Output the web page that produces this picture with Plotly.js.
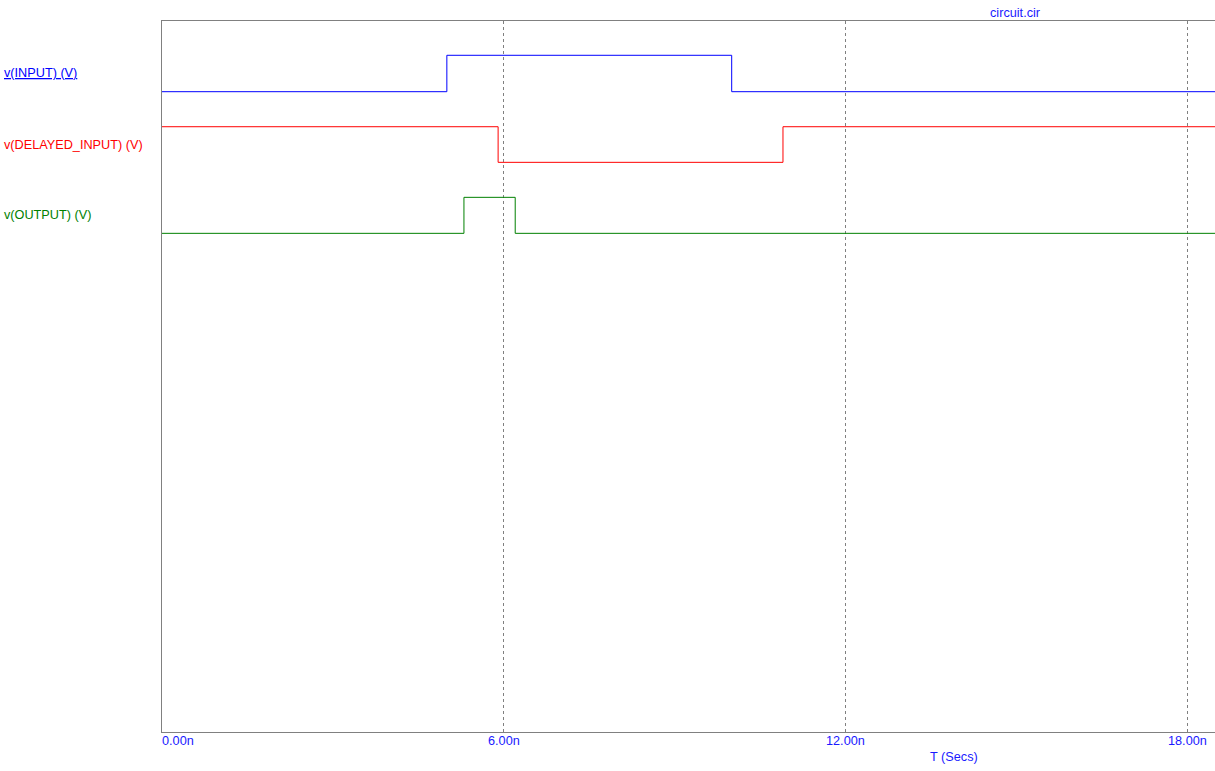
<!DOCTYPE html>
<html>
<head>
<meta charset="utf-8">
<script src="https://cdn.plot.ly/plotly-3.0.1.min.js"></script>
<style>html,body{margin:0;padding:0;background:#fff;}#chart{width:1215px;height:771px;}</style>
</head>
<body>
<div id="chart"></div>
<script>
// Time in ns, voltages in V (step waveforms, 'hv' shape)
const tInput = [0, 5.0, 10.0, 18.5];
const vInput = [0, 5, 0, 0];
const tDelayed = [0, 5.9, 10.9, 18.5];
const vDelayed = [5, 0, 5, 5];
const tOutput = [0, 5.3, 6.2, 18.5];
const vOutput = [0, 5, 0, 0];
const tickVals = [0, 6, 12, 18];
const tickLabels = ['0.00n', '6.00n', '12.00n', '18.00n'];
const seriesNames = ['v(INPUT) (V)', 'v(DELAYED_INPUT) (V)', 'v(OUTPUT) (V)'];
const seriesColors = ['#0000ff', '#ff0000', '#008000'];
const fileName = 'circuit.cir';
const xTitle = 'T (Secs)';

const font = 'Liberation Sans, Arial, sans-serif';
const fs = 12.7;
const traces = [
  {x: tInput, y: vInput, yaxis: 'y', mode: 'lines', line: {shape: 'hv', color: seriesColors[0], width: 1}, name: seriesNames[0]},
  {x: tDelayed, y: vDelayed, yaxis: 'y2', mode: 'lines', line: {shape: 'hv', color: seriesColors[1], width: 1}, name: seriesNames[1]},
  {x: tOutput, y: vOutput, yaxis: 'y3', mode: 'lines', line: {shape: 'hv', color: seriesColors[2], width: 1}, name: seriesNames[2]}
];

const W = 1053; // plot width in px
const ann = [];
tickVals.forEach((v, i) => {
  ann.push({x: v, xref: 'x', y: 0, yref: 'paper', yanchor: 'middle', yshift: -9,
    xanchor: i === 0 ? 'left' : 'center', xshift: i === 0 ? -2 : 0,
    text: tickLabels[i], showarrow: false, font: {family: font, size: fs, color: '#1a1aff'}});
});
ann.push({x: (954 - 162) / W, xref: 'paper', y: 0, yref: 'paper', yanchor: 'middle', yshift: -25, xanchor: 'center',
  text: xTitle, showarrow: false, font: {family: font, size: fs, color: '#1a1aff'}});
ann.push({x: (1015.7 - 162) / W, xref: 'paper', y: 1, yref: 'paper', yanchor: 'middle', yshift: 8, xanchor: 'center',
  text: fileName, showarrow: false, font: {family: font, size: fs, color: '#1a1aff'}});
const labelY = [0.9269, 0.8256, 0.7271];
seriesNames.forEach((n, i) => {
  ann.push({x: (2 - 162) / W, xref: 'paper', y: labelY[i], yref: 'paper', xanchor: 'left', yanchor: 'middle',
    text: i === 0 ? '<u>' + n + '</u>' : n, showarrow: false,
    font: {family: font, size: fs, color: seriesColors[i]}});
});

const yHidden = {showgrid: false, zeroline: false, showticklabels: false, ticks: '', fixedrange: true};
const layout = {
  width: 1215, height: 771,
  margin: {l: 162, r: 0, t: 21, b: 39},
  paper_bgcolor: '#ffffff', plot_bgcolor: '#ffffff',
  showlegend: false,
  xaxis: {range: [0, W / 56.97], tickvals: tickVals, showticklabels: false, ticks: '',
    showgrid: true, gridcolor: '#808080', griddash: '3px,3px', gridwidth: 1,
    showline: true, linecolor: '#808080', linewidth: 1, mirror: true, zeroline: false},
  yaxis: Object.assign({range: [-87.95, 9.71], showline: true, linecolor: '#808080', linewidth: 1}, yHidden),
  yaxis2: Object.assign({range: [-80.01, 19.85], overlaying: 'y'}, yHidden),
  yaxis3: Object.assign({range: [-69.26, 29.49], overlaying: 'y'}, yHidden),
  annotations: ann
};
Plotly.newPlot('chart', traces, layout, {staticPlot: true});
</script>
</body>
</html>
